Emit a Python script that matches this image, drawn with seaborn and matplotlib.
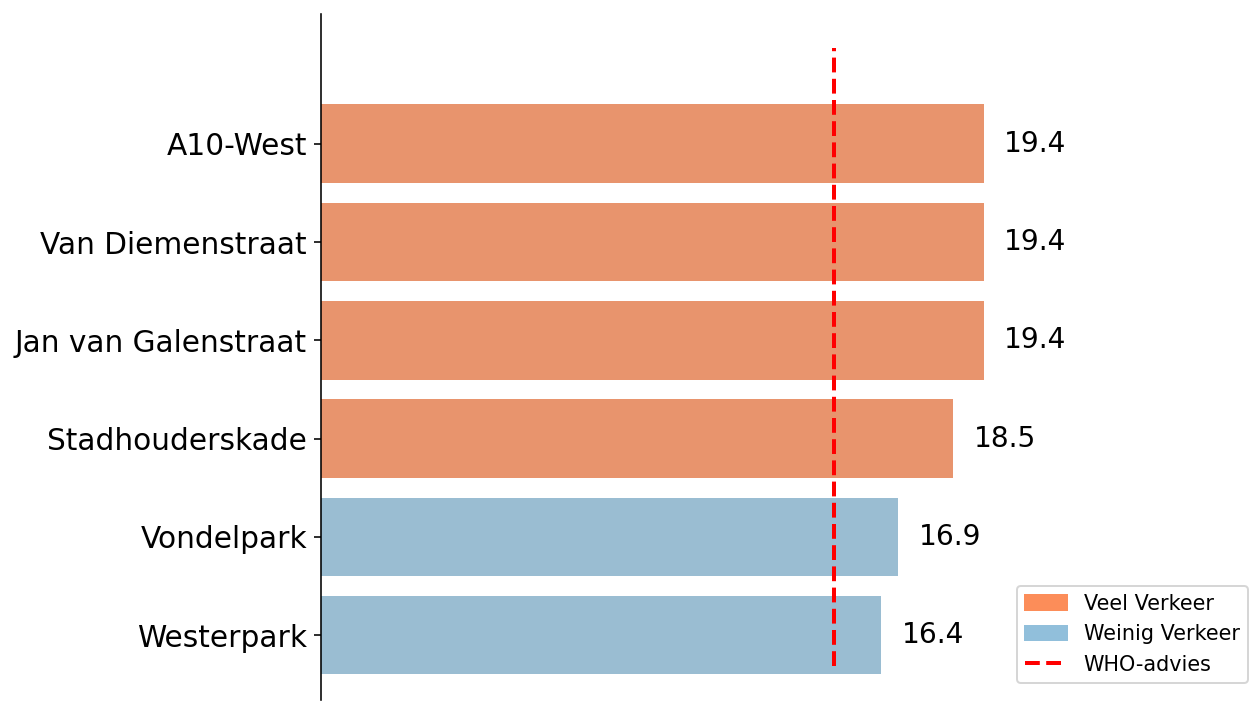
import matplotlib
matplotlib.use("Agg")
import matplotlib.pyplot as plt
import seaborn as sns
import pandas as pd
from matplotlib.patches import Patch
from matplotlib.lines import Line2D

locations = ["A10-West", "Van Diemenstraat", "Jan van Galenstraat",
             "Stadhouderskade", "Vondelpark", "Westerpark"]
values = [19.4, 19.4, 19.4, 18.5, 16.9, 16.4]
categories = ["Veel Verkeer", "Veel Verkeer", "Veel Verkeer",
              "Veel Verkeer", "Weinig Verkeer", "Weinig Verkeer"]
who_advice = 15
palette = {"Veel Verkeer": "#fc8d59", "Weinig Verkeer": "#91bfdb"}

df = pd.DataFrame({"locatie": locations, "waarde": values, "categorie": categories})

dpi = 144
fig = plt.figure(figsize=(1250 / dpi, 702 / dpi), dpi=dpi)
W, H = 1250, 702
ax = fig.add_axes([321 / W, (H - 700) / H, (1017 - 321) / W, (700 - 14) / H])

sns.barplot(data=df, y="locatie", x="waarde", hue="categorie", palette=palette,
            dodge=False, legend=False, order=locations, ax=ax, width=0.8)

ax.axvline(who_advice, ymin=0.05, ymax=0.95, color="red", linestyle="--",
           linewidth=2, zorder=5)

for i, v in enumerate(values):
    ax.text(v + 0.6, i, f"{v}", va="center", ha="left", fontsize=14)

ax.set_xlim(0, 20.37)
ax.set_ylim(5.66, -1.32)
ax.set_xlabel("")
ax.set_ylabel("")
ax.set_xticks([])
ax.tick_params(axis="y", labelsize=14.8)
for s in ["top", "right", "bottom"]:
    ax.spines[s].set_visible(False)

handles = [Patch(color=palette["Veel Verkeer"], label="Veel Verkeer"),
           Patch(color=palette["Weinig Verkeer"], label="Weinig Verkeer"),
           Line2D([0], [0], color="red", linestyle="--", linewidth=2, label="WHO-advies")]
fig.legend(handles=handles, loc="lower left",
           bbox_to_anchor=(1017 / W, (H - 683) / H), borderaxespad=0, fontsize=10.4)

fig.savefig("out.png", dpi=dpi)
